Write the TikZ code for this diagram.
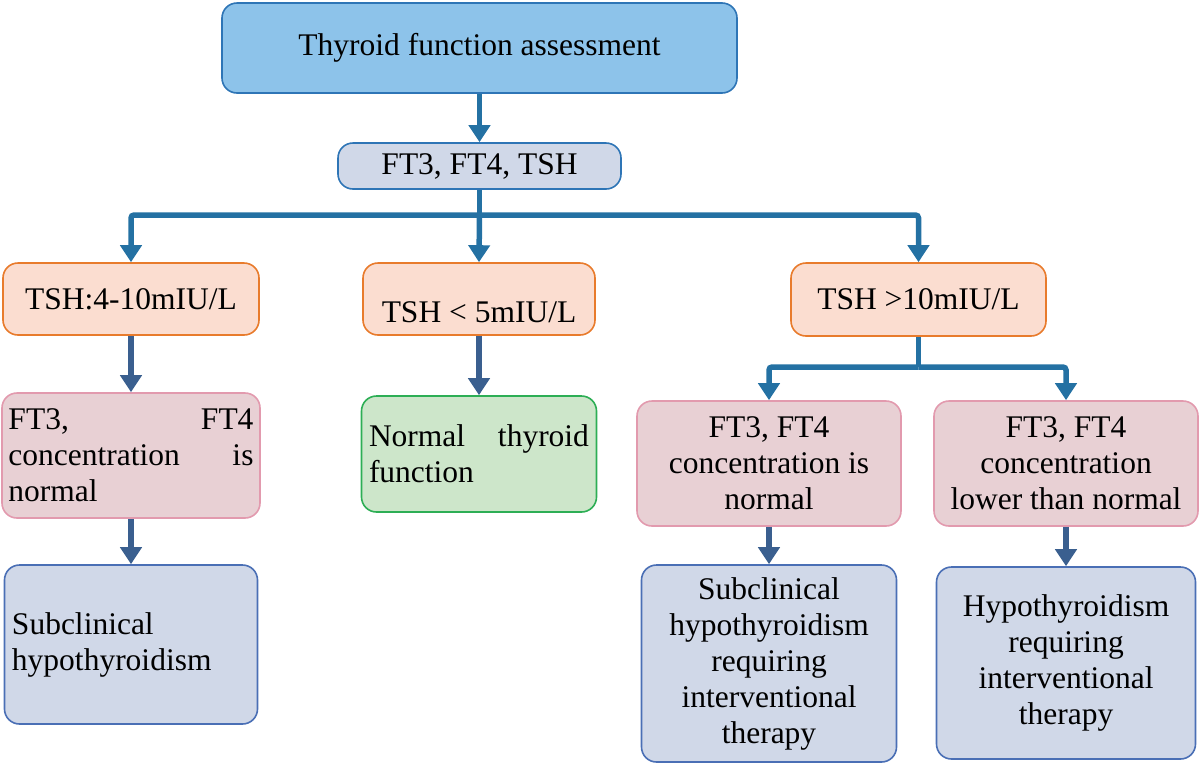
\documentclass[tikz,border=0pt]{standalone}
\usepackage{fontspec}
\setmainfont{Liberation Serif}
\usetikzlibrary{arrows.meta,calc}
\definecolor{topfill}{HTML}{8DC3EA}
\definecolor{topdraw}{HTML}{2E75B6}
\definecolor{grayfill}{HTML}{D0D8E8}
\definecolor{bluedraw}{HTML}{4A6FB5}
\definecolor{orfill}{HTML}{FBDDD0}
\definecolor{ordraw}{HTML}{E87B2C}
\definecolor{pkfill}{HTML}{E8D0D4}
\definecolor{pkdraw}{HTML}{E29AAE}
\definecolor{gnfill}{HTML}{CDE6CA}
\definecolor{gndraw}{HTML}{2DAE55}
\definecolor{arrA}{HTML}{2471A3}
\definecolor{arrB}{HTML}{3A5F8F}
\begin{document}
\begin{tikzpicture}[x=1pt,y=-1pt,
  every node/.style={font=\fontsize{31.5}{36}\selectfont},
  box/.style={rectangle,rounded corners=15pt,line width=1.6pt,inner sep=0pt,align=center},
  topbox/.style={box,fill=topfill,draw=topdraw},
  graybox/.style={box,fill=grayfill,draw=topdraw},
  orbox/.style={box,fill=orfill,draw=ordraw},
  pkbox/.style={box,fill=pkfill,draw=pkdraw},
  gnbox/.style={box,fill=gnfill,draw=gndraw},
  bgbox/.style={box,fill=grayfill,draw=bluedraw},
  connA/.style={draw=arrA,line width=5.5pt,rounded corners=3pt},
  arrowA/.style={connA,-{Triangle[width=21pt,length=17pt]}},
  arrowB/.style={draw=arrB,line width=5.5pt,-{Triangle[width=21pt,length=17pt]}},
  txt/.style={inner sep=0pt,align=center}
]
\useasboundingbox (0,0) rectangle (1200,764);

\node[topbox,minimum width=515pt,minimum height=90pt] (top) at (479.5,48) {Thyroid function assessment};
\node[graybox,minimum width=283pt,minimum height=46pt] (fts) at (479.5,166) {FT3, FT4, TSH};

\node[orbox,minimum width=256pt,minimum height=72pt] (tsha) at (131,299) {TSH:4-10mIU/L};
\node[orbox,minimum width=232pt,minimum height=72pt] (tshb) at (479,299) {};
\node[txt] (tshbt) at ($(tshb.center)+(0,13)$) {TSH < 5mIU/L};
\node[orbox,minimum width=255pt,minimum height=73pt] (tshc) at (918.5,299.5) {TSH >10mIU/L};

\node[pkbox,minimum width=258pt,minimum height=125pt] (ftl) at (131,455.5)
  {\parbox{245pt}{FT3,\hfill FT4\\concentration\hfill is\\normal}};
\node[gnbox,minimum width=235pt,minimum height=116pt] (norm) at (479,454)
  {\parbox{220pt}{Normal\hfill thyroid\\function}};
\node[pkbox,minimum width=264pt,minimum height=125pt] (ftr1) at (769,463.5)
  {FT3, FT4\\concentration is\\normal};
\node[pkbox,minimum width=264pt,minimum height=125pt] (ftr2) at (1066,463.5)
  {FT3, FT4\\concentration\\lower than normal};

\node[bgbox,minimum width=253pt,minimum height=159pt] (subl) at (131,644.5)
  {\parbox{238pt}{\raggedright Subclinical\\hypothyroidism}};
\node[bgbox,minimum width=255pt,minimum height=197pt] (subr) at (769,663.5)
  {Subclinical\\hypothyroidism\\requiring\\interventional\\therapy};
\node[bgbox,minimum width=259pt,minimum height=192pt] (hypo) at (1066,663)
  {Hypothyroidism\\requiring\\interventional\\therapy};

% connectors
\draw[arrowA] (top.south) -- (fts.north);
\coordinate (b1) at (fts.south |- 0,215);
\draw[connA] (fts.south) -- (b1);
\draw[arrowA] (b1) -| (tsha.north);
\draw[arrowA] (b1) -- (tshb.north);
\draw[arrowA] (b1) -| (tshc.north);
\coordinate (b2) at (tshc.south |- 0,367);
\draw[connA] (tshc.south) -- (b2);
\draw[arrowA] (b2) -| (ftr1.north);
\draw[arrowA] (b2) -| (ftr2.north);

\draw[arrowB] (tsha.south) -- (ftl.north);
\draw[arrowB] (ftl.south) -- (subl.north);
\draw[arrowB] (tshb.south) -- (norm.north);
\draw[arrowB] (ftr1.south) -- (subr.north);
\draw[arrowB] (ftr2.south) -- (hypo.north);
\end{tikzpicture}
\end{document}
